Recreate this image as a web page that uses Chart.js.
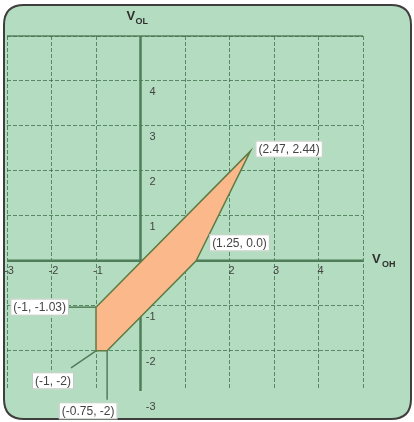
<!DOCTYPE html>
<html>
<head>
<meta charset="utf-8">
<script src="https://cdn.jsdelivr.net/npm/chart.js@4.4.1/dist/chart.umd.min.js"></script>
<style>
  html, body { margin: 0; padding: 0; background: #ffffff; }
  #wrap { width: 414px; height: 422px; position: relative; }
</style>
</head>
<body>
<div id="wrap"><canvas id="regionChart"></canvas></div>
<script>
// MARK: Datos del gráfico (vértices de la región y etiquetas)
const regionX = [-1, -1, -0.75, 1.25, 2.47, -1];
const regionY = [-1.03, -2, -2, 0, 2.44, -1.03];
const pointLabels = ['(-1, -1.03)', '(-1, -2)', '(-0.75, -2)', '(1.25, 0.0)', '(2.47, 2.44)'];
const xTicks = [-3, -2, -1, 2, 3, 4];
const yTicks = [4, 3, 2, 1, -1, -2, -3];
const xTitle = ['V', 'OH'];
const yTitle = ['V', 'OL'];

(function(){
  const GREEN_BG = '#b4dcc1';
  const AXIS = '#4f7d58';
  const TEXT = '#444444';

  function roundRect(ctx, x, y, w, h, r) {
    ctx.beginPath();
    ctx.moveTo(x + r, y);
    ctx.lineTo(x + w - r, y);
    ctx.quadraticCurveTo(x + w, y, x + w, y + r);
    ctx.lineTo(x + w, y + h - r);
    ctx.quadraticCurveTo(x + w, y + h, x + w - r, y + h);
    ctx.lineTo(x + r, y + h);
    ctx.quadraticCurveTo(x, y + h, x, y + h - r);
    ctx.lineTo(x, y + r);
    ctx.quadraticCurveTo(x, y, x + r, y);
    ctx.closePath();
  }

  // MARK: Fondo tipo tarjeta con borde redondeado
  const cardPlugin = {
    id: 'card',
    beforeDraw(chart) {
      const ctx = chart.ctx;
      ctx.save();
      ctx.fillStyle = '#ffffff';
      ctx.fillRect(0, 0, chart.width, chart.height);
      roundRect(ctx, 4, 5, 407, 414, 20);
      ctx.fillStyle = GREEN_BG;
      ctx.fill();
      ctx.lineWidth = 2;
      ctx.strokeStyle = '#3f3f3f';
      ctx.stroke();
      ctx.restore();
    }
  };

  // MARK: Ejes en cero, marcas y títulos
  const axesPlugin = {
    id: 'axesAtZero',
    beforeDatasetsDraw(chart) {
      const ctx = chart.ctx;
      const xs = chart.scales.x, ys = chart.scales.y;
      const area = chart.chartArea;
      const x0 = xs.getPixelForValue(0);
      const y0 = ys.getPixelForValue(0);
      ctx.save();
      // top line
      ctx.strokeStyle = 'rgba(70,115,80,0.85)';
      ctx.lineWidth = 1.5;
      ctx.beginPath();
      ctx.moveTo(area.left, area.top);
      ctx.lineTo(area.right, area.top);
      ctx.stroke();

      ctx.strokeStyle = AXIS;
      ctx.lineWidth = 2.5;
      ctx.beginPath();
      ctx.moveTo(area.left, y0);
      ctx.lineTo(area.right, y0);
      ctx.moveTo(x0, area.top);
      ctx.lineTo(x0, area.bottom + 2);
      ctx.stroke();

      ctx.fillStyle = TEXT;
      ctx.font = '11px "Liberation Sans", Arial, sans-serif';
      ctx.textBaseline = 'middle';
      ctx.textAlign = 'center';
      xTicks.forEach(v => {
        ctx.fillText(String(v), xs.getPixelForValue(v) + 2, y0 + 10);
      });
      ctx.textAlign = 'right';
      yTicks.forEach(v => {
        ctx.fillText(String(v), x0 + 15, ys.getPixelForValue(v) + 11);
      });

      // títulos V_OL / V_OH
      ctx.fillStyle = '#2f2f2f';
      ctx.textAlign = 'left';
      ctx.textBaseline = 'alphabetic';
      ctx.font = 'bold 13px "Liberation Sans", Arial, sans-serif';
      ctx.fillText(yTitle[0], x0 - 14, 20);
      ctx.fillText(xTitle[0], area.right + 9, y0 + 2);
      ctx.font = 'bold 9px "Liberation Sans", Arial, sans-serif';
      ctx.fillText(yTitle[1], x0 - 5, 24);
      ctx.fillText(xTitle[1], area.right + 19, y0 + 6);
      ctx.restore();
    }
  };

  // MARK: Cajas blancas con coordenadas y líneas guía
  const labelPlugin = {
    id: 'pointLabels',
    afterDatasetsDraw(chart) {
      const ctx = chart.ctx;
      const xs = chart.scales.x, ys = chart.scales.y;
      // [dx, dy, align, leaderEndDx, leaderEndDy]
      const place = [
        [-27, 0, 'right', -27, 0],
        [-43, 30, 'center', -25, 17],
        [-19, 60, 'center', 0, 49],
        [13, -18, 'left', null, null],
        [5, -2, 'left', null, null]
      ];
      ctx.save();
      ctx.font = '12px "Liberation Sans", Arial, sans-serif';
      ctx.textBaseline = 'middle';
      pointLabels.forEach((txt, i) => {
        const px = xs.getPixelForValue(regionX[i]);
        const py = ys.getPixelForValue(regionY[i]);
        const p = place[i];
        if (p[3] !== null) {
          ctx.strokeStyle = AXIS;
          ctx.lineWidth = 1.5;
          ctx.beginPath();
          ctx.moveTo(px, py);
          ctx.lineTo(px + p[3], py + p[4]);
          ctx.stroke();
        }
        const w = ctx.measureText(txt).width + 6;
        const h = 17;
        let bx = px + p[0];
        if (p[2] === 'right') bx -= w;
        if (p[2] === 'center') bx -= w / 2;
        const by = py + p[1] - h / 2;
        ctx.fillStyle = '#ffffff';
        ctx.fillRect(bx, by, w, h);
        ctx.strokeStyle = 'rgba(150,170,155,0.6)';
        ctx.lineWidth = 1;
        ctx.strokeRect(bx + 0.5, by + 0.5, w - 1, h - 1);
        ctx.fillStyle = TEXT;
        ctx.textAlign = 'left';
        ctx.fillText(txt, bx + 3, by + h / 2 + 0.5);
      });
      ctx.restore();
    }
  };

  document.addEventListener('DOMContentLoaded', function() {
    const canvas = document.getElementById('regionChart');
    if (!canvas) return;
    const ctx = canvas.getContext('2d');

    const points = regionX.map((x, i) => ({ x: x, y: regionY[i] }));

    const gridOpts = {
      color: 'rgba(50,100,60,0.7)',
      lineWidth: 1,
      drawTicks: false
    };

    window.regionChart = new Chart(ctx, {
      type: 'scatter',
      data: {
        datasets: [{
          data: points,
          showLine: true,
          fill: 'shape',
          backgroundColor: '#fbb98b',
          borderColor: '#5e7b44',
          borderWidth: 1.5,
          pointRadius: 0,
          tension: 0
        }]
      },
      options: {
        responsive: true,
        maintainAspectRatio: false,
        animation: false,
        layout: { padding: { left: 7, right: 51, top: 36, bottom: 33 } },
        plugins: {
          legend: { display: false },
          tooltip: { enabled: false }
        },
        scales: {
          x: {
            type: 'linear',
            min: -3,
            max: 5,
            afterBuildTicks: s => { s.ticks = [-3, -2, -1, 0, 1, 2, 3, 4, 5].map(v => ({ value: v })); },
            grid: gridOpts,
            border: { display: false, dash: [4, 2] },
            ticks: { display: false }
          },
          y: {
            type: 'linear',
            min: -2.85,
            max: 5,
            afterBuildTicks: s => { s.ticks = [-2, -1, 0, 1, 2, 3, 4, 5].map(v => ({ value: v })); },
            grid: gridOpts,
            border: { display: false, dash: [4, 2] },
            ticks: { display: false }
          }
        }
      },
      plugins: [cardPlugin, axesPlugin, labelPlugin]
    });
  });
})();
</script>
</body>
</html>
